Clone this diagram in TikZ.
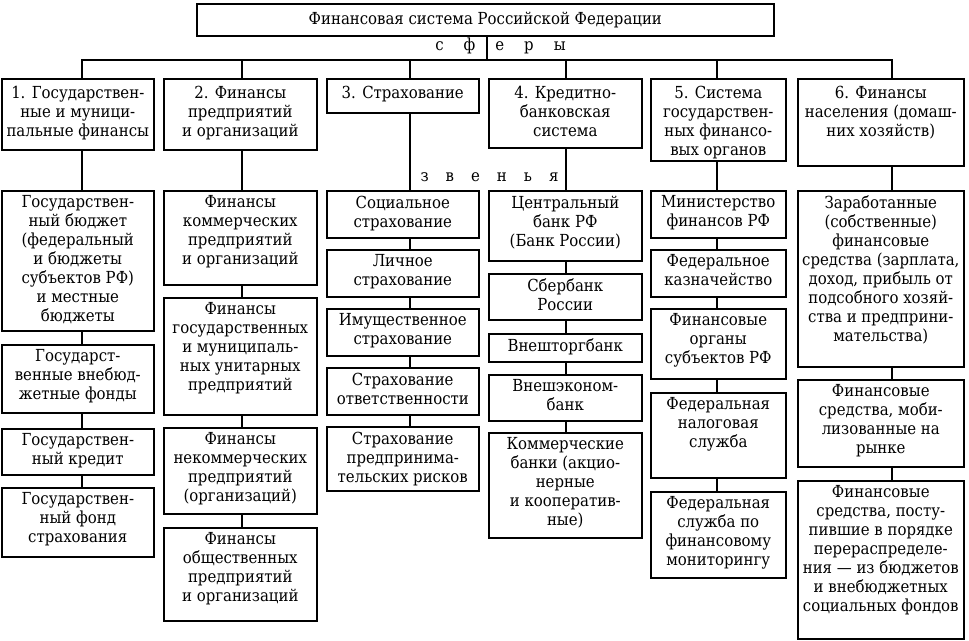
\documentclass[tikz,border=0pt]{standalone}
\usepackage{fontspec}
\setmainfont{DejaVu Serif Condensed}
\newlength{\px}
\setlength{\px}{0.025cm}
% box text: [top pad]{width}{height}{text}, all in px
\newcommand{\fincell}[4][5]{\parbox[t][#3\px][t]{#2\px}{\centering\vspace*{#1\px}#4}}
\tikzset{
  box/.style={draw, line width=1.1pt, inner sep=0pt, anchor=north west},
  link/.style={line width=1.1pt},
  spaced/.style={inner sep=0pt},
}
\begin{document}
\begin{tikzpicture}[x=0.025cm, y=-0.025cm, font=\fontsize{11.8pt}{13.5pt}\selectfont]
  \useasboundingbox (0,0) rectangle (969,640);
  % top
  \node[box] (top) at (196,3) {\fincell[8]{577}{32}{Финансовая система Российской Федерации}};
  \node[spaced] (spheres) at (500.5,46) {с\hspace{20\px}ф\hspace{20\px}е\hspace{20\px}р\hspace{20\px}ы};
  \coordinate (bar) at (487,60);
  % spines of the columns
  \coordinate (s1) at (82,0);
  \coordinate (s2) at (242,0);
  \coordinate (s3) at (410,0);
  \coordinate (s4) at (566,0);
  \coordinate (s5) at (717,0);
  \coordinate (s6) at (892,0);
  % spheres
  \node[box] (k1) at (1,78) {\fincell[7]{152}{71}{1. Государствен-\\ные и муници-\\пальные финансы}};
  \node[box] (k2) at (163,78) {\fincell[7]{153}{71}{2. Финансы\\предприятий\\и организаций}};
  \node[box] (k3) at (326,78) {\fincell[7]{152}{34}{3. Страхование}};
  \node[box] (k4) at (488,78) {\fincell[7]{153}{69}{4. Кредитно-\\банковская\\система}};
  \node[box] (k5) at (650,78) {\fincell[7]{135}{82}{5. Система\\государствен-\\ных финансо-\\вых органов}};
  \node[box] (k6) at (797,78) {\fincell[7]{166}{87}{6. Финансы\\населения (домаш-\\них хозяйств)}};
  \node[spaced] (links) at (489.5,177) {з\hspace{17\px}в\hspace{17\px}е\hspace{17\px}н\hspace{17\px}ь\hspace{17\px}я};
  % column 1
  \node[box] (c1a) at (1,190) {\fincell{152}{140}{Государствен-\\ный бюджет\\(федеральный\\и бюджеты\\субъектов РФ)\\и местные\\бюджеты}};
  \node[box] (c1b) at (1,344) {\fincell{152}{68}{Государст-\\венные внебюд-\\жетные фонды}};
  \node[box] (c1c) at (1,428) {\fincell{152}{46}{Государствен-\\ный кредит}};
  \node[box] (c1d) at (1,487) {\fincell{152}{69}{Государствен-\\ный фонд\\страхования}};
  % column 2
  \node[box] (c2a) at (163,190) {\fincell{153}{94}{Финансы\\коммерческих\\предприятий\\и организаций}};
  \node[box] (c2b) at (163,297) {\fincell{153}{117}{Финансы\\государственных\\и муниципаль-\\ных унитарных\\предприятий}};
  \node[box] (c2c) at (163,427) {\fincell{153}{86}{Финансы\\некоммерческих\\предприятий\\(организаций)}};
  \node[box] (c2d) at (163,527) {\fincell{153}{93}{Финансы\\общественных\\предприятий\\и организаций}};
  % column 3
  \node[box] (c3a) at (326,190) {\fincell{152}{47}{Социальное\\страхование}};
  \node[box] (c3b) at (326,249) {\fincell{152}{47}{Личное\\страхование}};
  \node[box] (c3c) at (326,308) {\fincell{152}{47}{Имущественное\\страхование}};
  \node[box] (c3d) at (326,367) {\fincell{152}{47}{Страхование\\ответственности}};
  \node[box] (c3e) at (326,426) {\fincell{152}{64}{Страхование\\предпринима-\\тельских рисков}};
  % column 4
  \node[box] (c4a) at (488,190) {\fincell{153}{70}{Центральный\\банк РФ\\(Банк России)}};
  \node[box] (c4b) at (488,273) {\fincell{153}{46}{Сбербанк\\России}};
  \node[box] (c4c) at (488,333) {\fincell{153}{28}{Внешторгбанк}};
  \node[box] (c4d) at (488,374) {\fincell{153}{46}{Внешэконом-\\банк}};
  \node[box] (c4e) at (488,432) {\fincell{153}{105}{Коммерческие\\банки (акцио-\\нерные\\и кооператив-\\ные)}};
  % column 5
  \node[box] (c5a) at (650,190) {\fincell{135}{47}{Министерство\\финансов РФ}};
  \node[box] (c5b) at (650,249) {\fincell{135}{47}{Федеральное\\казначейство}};
  \node[box] (c5c) at (650,308) {\fincell{135}{70}{Финансовые\\органы\\субъектов РФ}};
  \node[box] (c5d) at (650,392) {\fincell{135}{85}{Федеральная\\налоговая\\служба}};
  \node[box] (c5e) at (650,491) {\fincell{135}{86}{Федеральная\\служба по\\финансовому\\мониторингу}};
  % column 6
  \node[box] (c6a) at (797,190) {\fincell{166}{176}{Заработанные\\(собственные)\\финансовые\\средства (зарплата,\\доход, прибыль от\\подсобного хозяй-\\ства и предприни-\\мательства)}};
  \node[box] (c6b) at (797,379) {\fincell{166}{87}{Финансовые\\средства, моби-\\лизованные на\\рынке}};
  \node[box] (c6c) at (797,480) {\fincell{166}{158}{Финансовые\\средства, посту-\\пившие в порядке\\перераспределе-\\ния~--- из бюджетов\\и внебюджетных\\социальных фондов}};
  % connectors
  \draw[link] (top.south -| bar) -- (bar);
  \foreach \k/\s in {k1/s1, k2/s2, k3/s3, k4/s4, k5/s5, k6/s6}
    \draw[link] (\k.north -| \s) |- (bar);
  \foreach \a/\b/\s in {k1/c1a/s1, c1a/c1b/s1, c1b/c1c/s1, c1c/c1d/s1,
                        k2/c2a/s2, c2a/c2b/s2, c2b/c2c/s2, c2c/c2d/s2,
                        k3/c3a/s3, c3a/c3b/s3, c3b/c3c/s3, c3c/c3d/s3, c3d/c3e/s3,
                        k4/c4a/s4, c4a/c4b/s4, c4b/c4c/s4, c4c/c4d/s4, c4d/c4e/s4,
                        k5/c5a/s5, c5a/c5b/s5, c5b/c5c/s5, c5c/c5d/s5, c5d/c5e/s5,
                        k6/c6a/s6, c6a/c6b/s6, c6b/c6c/s6}
    \draw[link] (\a.south -| \s) -- (\b.north -| \s);
\end{tikzpicture}
\end{document}
